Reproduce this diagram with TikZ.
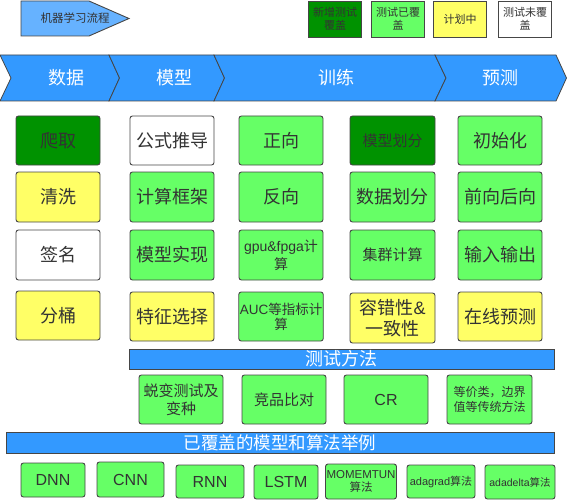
\documentclass[tikz,border=0pt]{standalone}
\usepackage{fontspec}
\setmainfont{Noto Sans CJK SC}
\newfontfamily\lat{Liberation Sans}
\definecolor{dg}{RGB}{0,146,0}
\definecolor{lg}{RGB}{102,255,102}
\definecolor{yl}{RGB}{255,255,102}
\definecolor{bl}{RGB}{51,153,255}
\definecolor{pb}{RGB}{102,178,255}
\definecolor{bd}{RGB}{70,70,70}
\definecolor{tx}{RGB}{51,51,51}
\newcommand\fsz[2]{\fontsize{#1}{#2}\selectfont}
\tikzset{
  bx/.style={draw=bd, line width=0.9pt, rounded corners=2.5pt, text=tx, align=center, inner sep=1pt},
  lg/.style={draw=bd, line width=0.9pt, text=tx, align=center, inner sep=1pt, minimum width=53pt, minimum height=36pt, font=\fsz{11}{13}},
  bar/.style={draw=bd, line width=0.9pt, fill=bl, text=white, inner sep=0pt},
  chev/.style={draw=bd, line width=0.8pt, fill=bl},
  chevtext/.style={text=white, font=\fsz{18}{21}},
}
\begin{document}
\begin{tikzpicture}[x=1pt,y=-1pt]
\useasboundingbox (0,0) rectangle (567,500);
% process pentagon
\draw[draw=bd, line width=0.9pt, fill=pb] (21,1) -- (89,1) -- (129,18.5) -- (89,36) -- (21,36) -- cycle;
\node[text=tx, font=\fsz{11.5}{13}] (proc) at (75,18.5) {机器学习流程};
% legend
\node[lg, fill=dg] (lgA) at (335,19) {新增测试\\覆盖};
\node[lg, fill=lg] (lgB) at (398,19) {测试已覆\\盖};
\node[lg, fill=yl] (lgC) at (460,19) {计划中};
\node[lg, fill=white] (lgD) at (525,19) {测试未覆\\盖};
% chevrons
\draw[chev] (0,55) -- (109,55) -- (119.5,78) -- (109,101) -- (0,101) -- (11,78) -- cycle;
\draw[chev] (109,55) -- (214,55) -- (224.5,78) -- (214,101) -- (109,101) -- (119.5,78) -- cycle;
\draw[chev] (214,55) -- (435,55) -- (446,78) -- (435,101) -- (214,101) -- (224.5,78) -- cycle;
\draw[chev] (435,55) -- (556,55) -- (566.5,78) -- (556,101) -- (435,101) -- (446,78) -- cycle;
\node[chevtext] (ch1) at (66,78) {数据};
\node[chevtext] (ch2) at (174,78) {模型};
\node[chevtext] (ch3) at (336,78) {训练};
\node[chevtext] (ch4) at (500,78) {预测};
% column 1
\node[bx, fill=dg, minimum width=84pt, minimum height=49pt, font=\fsz{18}{21}] (a1) at (58,140.5) {爬取};
\node[bx, fill=yl, minimum width=84pt, minimum height=50pt, font=\fsz{18}{21}] (a2) at (58,197) {清洗};
\node[bx, fill=white, minimum width=84pt, minimum height=50pt, font=\fsz{18}{21}] (a3) at (58,255) {签名};
\node[bx, fill=yl, minimum width=84pt, minimum height=49pt, font=\fsz{18}{21}] (a4) at (58,315.5) {分桶};
% column 2
\node[bx, fill=white, minimum width=84pt, minimum height=49pt, font=\fsz{18}{21}] (b1) at (172,140.5) {公式推导};
\node[bx, fill=lg, minimum width=84pt, minimum height=50pt, font=\fsz{18}{21}] (b2) at (172,197) {计算框架};
\node[bx, fill=lg, minimum width=84pt, minimum height=50pt, font=\fsz{18}{21}] (b3) at (172,255) {模型实现};
\node[bx, fill=yl, minimum width=84pt, minimum height=49pt, font=\fsz{18}{21}] (b4) at (172,316.5) {特征选择};
% column 3
\node[bx, fill=lg, minimum width=84pt, minimum height=49pt, font=\fsz{18}{21}] (c1) at (281,140.5) {正向};
\node[bx, fill=lg, minimum width=84pt, minimum height=50pt, font=\fsz{18}{21}] (c2) at (281,197) {反向};
\node[bx, fill=lg, minimum width=84pt, minimum height=50pt, font=\fsz{14}{18}] (c3) at (281,255) {{\lat gpu\&fpga}计\\算};
\node[bx, fill=lg, minimum width=84pt, minimum height=49pt, font=\fsz{13.5}{15}] (c4) at (281,316.5) {{\lat AUC}等指标计\\算};
% column 4
\node[bx, fill=dg, minimum width=85pt, minimum height=49pt, font=\fsz{15}{18}] (d1) at (392.5,140.5) {模型划分};
\node[bx, fill=lg, minimum width=85pt, minimum height=50pt, font=\fsz{18}{21}] (d2) at (392.5,197) {数据划分};
\node[bx, fill=lg, minimum width=85pt, minimum height=50pt, font=\fsz{15}{18}] (d3) at (392.5,255) {集群计算};
\node[bx, fill=yl, minimum width=85pt, minimum height=50pt, font=\fsz{18}{21}] (d4) at (392.5,318) {容错性{\lat\&}\\一致性};
% column 5
\node[bx, fill=lg, minimum width=84pt, minimum height=49pt, font=\fsz{18}{21}] (e1) at (500,140.5) {初始化};
\node[bx, fill=lg, minimum width=84pt, minimum height=50pt, font=\fsz{18}{21}] (e2) at (500,197) {前向后向};
\node[bx, fill=lg, minimum width=84pt, minimum height=50pt, font=\fsz{18}{21}] (e3) at (500,255) {输入输出};
\node[bx, fill=yl, minimum width=84pt, minimum height=49pt, font=\fsz{18}{21}] (e4) at (500,316.5) {在线预测};
% test methods bar
\node[bar, minimum width=425pt, minimum height=20pt, font=\fsz{18}{20}] (tbar) at (341.5,359) {测试方法};
\node[bx, fill=lg, minimum width=84pt, minimum height=49pt, font=\fsz{15}{18}] (t1) at (181,399.5) {蜕变测试及\\变种};
\node[bx, fill=lg, minimum width=84pt, minimum height=49pt, font=\fsz{15}{18}] (t2) at (284,399.5) {竞品比对};
\node[bx, fill=lg, minimum width=84pt, minimum height=49pt, font=\fsz{16}{18}] (t3) at (386,399.5) {\lat CR};
\node[bx, fill=lg, minimum width=85pt, minimum height=49pt, font=\fsz{12}{14.5}] (t4) at (489.5,399.5) {等价类，边界\\值等传统方法};
% coverage bar
\node[bar, minimum width=548pt, minimum height=21pt, font=\fsz{17.5}{20}] (cbar) at (280,442.5) {已覆盖的模型和算法举例};
% bottom row
\node[bx, fill=lg, minimum width=64pt, minimum height=34pt, font=\fsz{16}{18}] (m1) at (53,480) {\lat DNN};
\node[bx, fill=lg, minimum width=67pt, minimum height=35pt, font=\fsz{16}{18}] (m2) at (130.5,479.5) {\lat CNN};
\node[bx, fill=lg, minimum width=68pt, minimum height=33pt, font=\fsz{16}{18}] (m3) at (210,481.5) {\lat RNN};
\node[bx, fill=lg, minimum width=64pt, minimum height=34pt, font=\fsz{16}{18}] (m4) at (286,482) {\lat LSTM};
\node[bx, fill=lg, minimum width=68pt, minimum height=35pt, font=\fsz{11.5}{13}] (m5) at (361,481.5) {{\lat MOMEMTUN}\\算法};
\node[bx, fill=lg, minimum width=68pt, minimum height=33pt, font=\fsz{11}{13}] (m6) at (441,481.5) {{\lat adagrad}算法};
\node[bx, fill=lg, minimum width=70pt, minimum height=34pt, font=\fsz{10.5}{13}] (m7) at (520,482) {{\lat adadelta}算法};
\end{tikzpicture}
\end{document}
